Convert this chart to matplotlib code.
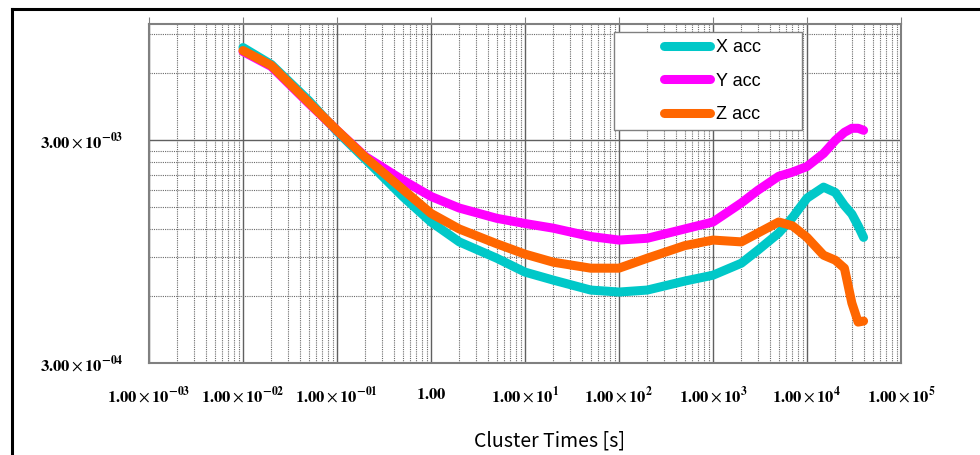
import matplotlib
matplotlib.use("Agg")
import matplotlib.pyplot as plt
from matplotlib.lines import Line2D
from matplotlib.patches import Rectangle
from matplotlib.ticker import FixedLocator, NullFormatter
import numpy as np

# cluster times [s]
times = [0.01, 0.02, 0.05, 0.1, 0.2, 0.5, 1, 2, 5, 10, 20, 50, 100, 200, 500,
         1000, 2000, 3000, 5000, 7000, 10000, 15000, 20000, 25000, 30000, 35000, 40000]

x_acc = [7.84e-3, 6.58e-3, 4.53e-3, 3.29e-3, 2.47e-3, 1.68e-3, 1.29e-3, 1.05e-3, 8.87e-4,
         7.68e-4, 7.07e-4, 6.38e-4, 6.25e-4, 6.38e-4, 7.00e-4, 7.44e-4, 8.42e-4, 9.63e-4,
         1.15e-3, 1.35e-3, 1.65e-3, 1.85e-3, 1.75e-3, 1.53e-3, 1.40e-3, 1.24e-3, 1.10e-3]
y_acc = [7.52e-3, 6.44e-3, 4.40e-3, 3.33e-3, 2.54e-3, 1.99e-3, 1.68e-3, 1.49e-3, 1.34e-3,
         1.27e-3, 1.21e-3, 1.11e-3, 1.07e-3, 1.09e-3, 1.20e-3, 1.29e-3, 1.57e-3, 1.79e-3,
         2.07e-3, 2.16e-3, 2.29e-3, 2.62e-3, 3.00e-3, 3.26e-3, 3.40e-3, 3.40e-3, 3.33e-3]
z_acc = [7.60e-3, 6.51e-3, 4.44e-3, 3.33e-3, 2.52e-3, 1.81e-3, 1.41e-3, 1.20e-3, 1.03e-3,
         9.25e-4, 8.51e-4, 8.00e-4, 8.00e-4, 8.87e-4, 1.01e-3, 1.07e-3, 1.05e-3, 1.15e-3,
         1.29e-3, 1.24e-3, 1.10e-3, 9.15e-4, 8.69e-4, 8.00e-4, 5.58e-4, 4.58e-4, 4.63e-4]

labels = ["X acc", "Y acc", "Z acc"]
colors = ["#00C8C8", "#FF00FF", "#FF6600"]

x_ticks = [1e-3, 1e-2, 1e-1, 1, 1e1, 1e2, 1e3, 1e4, 1e5]
x_ticklabels = [r"$\mathbf{1.00}\times\mathbf{10^{-03}}$", r"$\mathbf{1.00}\times\mathbf{10^{-02}}$",
                r"$\mathbf{1.00}\times\mathbf{10^{-01}}$", r"$\mathbf{1.00}$",
                r"$\mathbf{1.00}\times\mathbf{10^{1}}$", r"$\mathbf{1.00}\times\mathbf{10^{2}}$",
                r"$\mathbf{1.00}\times\mathbf{10^{3}}$", r"$\mathbf{1.00}\times\mathbf{10^{4}}$",
                r"$\mathbf{1.00}\times\mathbf{10^{5}}$"]
y_ticks = [3e-4, 3e-3]
y_ticklabels = [r"$\mathbf{3.00}\times\mathbf{10^{-04}}$", r"$\mathbf{3.00}\times\mathbf{10^{-03}}$"]

plt.rcParams["mathtext.fontset"] = "stix"

fig = plt.figure(figsize=(9.8, 4.55), dpi=100)
ax = fig.add_axes([149 / 980, 1 - 363 / 455, 752 / 980, 339 / 455])

for vals, lab, col in zip([x_acc, y_acc, z_acc], labels, colors):
    ax.plot(times, vals, color=col, lw=6.5, label=lab, solid_capstyle="round",
            solid_joinstyle="round")

ax.set_xscale("log")
ax.set_yscale("log")
ax.set_xlim(1e-3, 1e5)
ax.set_ylim(3e-4, 1e-2)

ax.xaxis.set_major_locator(FixedLocator(x_ticks))
ax.xaxis.set_ticklabels(x_ticklabels)
minor_x = [m * 10.0 ** e for e in range(-3, 5) for m in range(2, 10)]
ax.xaxis.set_minor_locator(FixedLocator(minor_x))
ax.xaxis.set_minor_formatter(NullFormatter())

ax.yaxis.set_major_locator(FixedLocator(y_ticks))
ax.yaxis.set_ticklabels(y_ticklabels)
minor_y = [m * 3e-4 for m in range(2, 10)] + [m * 3e-3 for m in range(2, 4)]
ax.yaxis.set_minor_locator(FixedLocator(minor_y))
ax.yaxis.set_minor_formatter(NullFormatter())

ax.grid(which="major", color="#606060", lw=1.0, ls="-")
ax.grid(which="minor", color="#6a6a6a", lw=0.8, ls=(0, (1, 1)))
ax.set_axisbelow(True)

ax.tick_params(axis="x", which="major", bottom=False, top=True, direction="out",
               length=5, color="#808080", labelsize=12, pad=11)
ax.tick_params(axis="y", which="major", left=False, labelsize=12, pad=15)
ax.tick_params(which="minor", bottom=False, left=False, top=False)
for s in ax.spines.values():
    s.set_color("#808080")
    s.set_linewidth(1.5)

# legend with a hand-placed frame
ax.add_patch(Rectangle((0.618, 0.687), 0.25, 0.289, transform=ax.transAxes,
                       facecolor="white", edgecolor="#808080", lw=1.0, zorder=4))
leg = ax.legend(loc="upper left", bbox_to_anchor=(0.665, 0.997), frameon=False,
                prop={"family": "Liberation Sans", "size": 13}, handlelength=2.6,
                handletextpad=0.3, labelspacing=0.9, borderpad=0.3)
leg.set_zorder(5)

fig.text(550 / 980, 1 - 441 / 455, "Cluster Times [s]", ha="center", va="center",
         fontsize=14, family=["Noto Sans CJK JP", "DejaVu Sans"])

# outer frame (top and left edges)
fig.add_artist(Line2D([12 / 980, 1.0], [1 - 9 / 455, 1 - 9 / 455], color="black", lw=2.2,
                      transform=fig.transFigure))
fig.add_artist(Line2D([12 / 980, 12 / 980], [0.0, 1 - 9 / 455], color="black", lw=2.2,
                      transform=fig.transFigure))

fig.savefig("out.png", dpi=100)
